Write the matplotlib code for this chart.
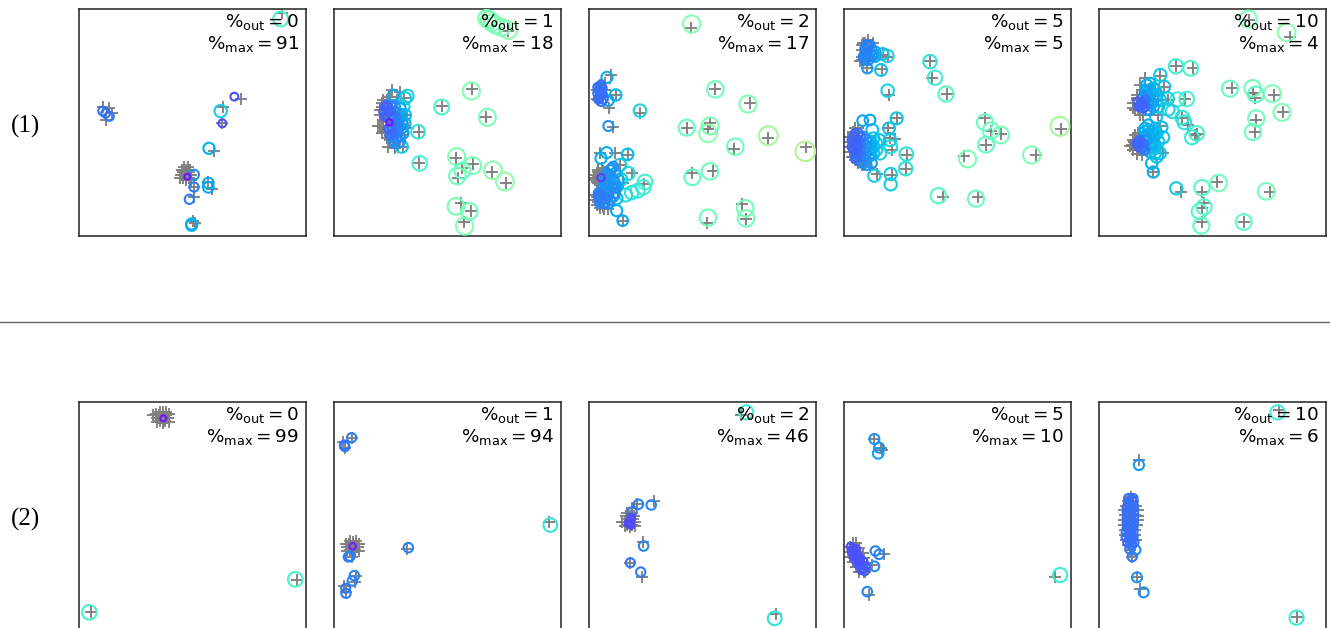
import numpy as np
import matplotlib
matplotlib.use('Agg')
import matplotlib.pyplot as plt
from matplotlib.lines import Line2D

W, H = 1330, 628

pct_out = [0, 1, 2, 5, 10]
pct_max_1 = [91, 18, 17, 5, 4]
pct_max_2 = [99, 94, 46, 10, 6]
row_names = ['(1)', '(2)']

# circles are (x, y, score), pluses are (x, y)
c_1_0 = [(632,57,.38),(493,290,.08),(452,333,.27),(457,370,.08),(417,445,.22),(372,524,.17),(352,530,.0),
         (372,561,.14),(415,549,.2),(415,562,.2),(358,598,.14),(365,672,.22),(365,676,.22),(98,333,.12),(107,340,.12),(118,349,.13)]
p_1_0 = [(637,40),(513,298),(458,322),(457,370),(432,452),(372,561),(425,568),(415,545),(372,592),(368,662),(375,670),
         (100,322),(125,340),(108,360),(118,325),
         (348,525),(338,517),(358,517),(332,525),(364,525),(340,535),(356,535),(348,509),(348,541),(335,510),(360,510),
         (330,535),(362,540),(342,500),(355,500),(342,525),(354,525),(348,517),(348,533)]

c_1_1 = [(470,55,.47),(478,60,.47),(487,68,.47),(497,75,.47),(515,82,.48),(535,90,.5),(424,273,.48),(335,321,.38),(472,352,.47),
         (264,395,.33),(269,490,.37),(380,470,.47),(428,497,.47),(397,512,.43),(382,528,.45),(489,511,.5),(525,545,.5),(378,619,.46),
         (418,634,.45),(404,678,.48),(215,440,.27),(232,288,.28),(225,295,.27),(190,285,.2),(220,320,.27),(225,345,.25),(225,370,.22),
         (220,400,.2),(215,345,.22),(210,380,.17),(205,355,.2),(195,335,.17),(200,400,.15),(210,425,.18),(190,420,.17),(200,370,.15),
         (190,350,.15),(185,405,.13),(185,390,.12),(170,315,.12),(175,335,.1),(165,350,.1),(185,320,.13),(178,367,.0),
         (175,320,.1),(165,320,.1),(160,335,.1),(170,345,.1),(185,345,.12),(180,335,.12),(195,350,.14),(205,365,.16),(195,385,.14),
         (205,385,.16),(185,380,.12),(175,385,.1),(190,400,.13),(200,415,.15),(210,410,.17),(195,430,.16),(180,405,.12),(215,365,.2),
         (215,385,.2),(205,340,.2),(195,320,.17),(210,325,.22)]
p_1_1 = [(535,92),(425,268),(337,318),(467,352),(268,396),(268,490),(378,475),(430,493),(397,505),(385,535),(487,515),(528,550),
         (392,610),(422,632),(403,665),(218,440),(185,270),(210,275),(222,295),(155,310),(150,378),(175,400),(195,445),(235,385),
         (165,345),(170,365),(160,385),(190,425),(215,405),(200,300),(160,330),(225,345),
         (155,320),(150,345),(145,378),(155,378),(160,360),(150,330),(165,395),(170,415),(180,420),(155,400),(165,320),(170,300),
         (160,300),(180,290),(205,440),(175,440)]

c_1_2 = [(320,72,.48),(391,268,.45),(489,312,.48),(305,383,.43),(375,378,.47),(369,400,.5),(550,407,.55),(661,454,.58),(451,440,.45),
         (375,514,.45),(322,532,.42),(481,625,.45),(483,655,.45),(369,653,.45),(165,332,.28),(66,232,.22),(92,285,.24),(70,378,.17),
         (128,463,.24),(65,458,.22),(48,475,.22),(105,495,.27),(130,520,.3),(108,538,.27),(180,546,.37),(175,562,.36),(158,572,.34),
         (140,578,.32),(122,585,.3),(95,595,.25),(95,632,.22),(113,662,.2),(70,302,.2),(45,262,.12),(48,275,.12),(45,290,.12),(50,305,.13),
         (80,505,.17),(75,525,.18),(85,540,.17),(60,555,.17),(75,570,.18),(55,575,.17),(45,600,.15),(70,610,.17),(90,580,.15),(60,595,.15),
         (85,565,.17),(50,565,.17),(70,585,.17),(90,520,.2),(40,590,.13),(48,533,.06),
         (40,580,.14),(50,590,.14),(60,610,.15),(45,610,.15),(60,565,.17),(70,555,.18),(80,555,.18),(70,540,.18),(60,540,.17),(90,560,.2),
         (85,590,.18),(75,600,.17),(55,610,.15),(100,540,.22),(65,520,.17),(75,510,.17),(85,500,.17),(90,550,.2),(55,590,.15),(70,570,.17),
         (45,585,.14),(95,560,.22),(38,262,.12),(52,265,.12),(38,280,.12),(52,282,.12),(40,297,.12),(55,298,.13),(42,270,.12),(48,255,.12)]
p_1_2 = [(317,85),(391,268),(495,310),(305,385),(376,368),(368,388),(550,415),(664,442),(447,447),(385,513),(322,518),(470,612),
         (483,657),(365,668),(165,338),(78,225),(92,285),(83,380),(128,465),(45,460),(90,458),(105,495),(140,520),(113,548),(178,552),
         (72,323),(60,270),(35,298),(70,628),(113,662),(45,535),(32,525),(58,525),(35,545),(50,550),(40,515),(55,512),(38,605),(55,620),(35,590),
         (30,540),(38,510),(38,530),(38,550),(50,505),(50,520),(50,540),(60,515),(60,530),(60,545),(28,535),
         (30,600),(35,615),(45,625),(58,628),(30,585),(45,610),(45,255),(35,270),(40,300),(55,290),(60,250)]

c_1_3 = [(660,379,.55),(575,465,.48),(383,477,.47),(408,596,.43),(295,587,.4),(482,405,.46),(453,392,.45),(435,367,.43),(438,434,.42),
         (318,282,.4),(285,233,.36),(270,185,.32),(143,272,.28),(142,168,.28),(128,162,.25),(123,210,.25),(82,205,.18),(75,180,.15),
         (170,355,.26),(147,385,.25),(199,462,.32),(197,506,.32),(103,527,.27),(152,522,.27),(152,553,.27),(150,420,.27),(152,440,.3),
         (90,360,.2),(68,362,.2),(97,390,.25),(118,420,.25),(120,460,.28),(100,440,.25),(100,460,.25),(95,490,.18),(100,415,.25),
         (85,430,.22),(85,450,.22),(85,470,.22),(70,410,.17),(70,430,.17),(70,450,.17),(70,470,.17),(70,490,.17),(55,400,.12),(55,420,.12),
         (55,440,.12),(55,460,.13),(40,410,.1),(40,430,.1),(40,450,.1),(50,470,.12),(85,140,.15),(95,150,.18),(75,160,.16),(85,170,.17),
         (100,165,.2),(75,145,.14),
         (35,420,.1),(35,440,.1),(45,400,.1),(48,420,.1),(48,440,.1),(48,460,.11),(62,410,.13),(62,430,.14),(62,450,.14),(62,470,.14),
         (62,485,.15),(78,420,.18),(78,440,.18),(78,460,.18),(78,480,.18),(92,425,.22),(92,445,.22),(92,465,.22),(108,430,.27),(108,450,.27),
         (80,495,.17),(45,475,.11),(80,135,.14),(90,135,.15),(90,158,.17),(80,150,.15),(70,170,.15),(85,180,.16),(95,165,.18),(105,155,.2),
         (105,170,.2),(78,170,.15)]
p_1_3 = [(662,388),(587,466),(372,468),(413,590),(310,592),(483,402),(452,392),(435,355),(438,434),(320,282),(275,233),(270,183),
         (147,285),(145,170),(130,165),(125,208),(82,205),(65,180),(170,355),(145,385),(200,465),(197,507),(110,522),(155,525),(155,450),
         (150,415),(85,120),(25,410),(70,495),(40,395),(35,470),(55,485),(75,130),(65,135),(165,418),(90,500),
         (30,410),(30,425),(30,440),(30,455),(38,395),(38,470),(45,385),(45,480),(55,385),(55,490),(65,495),(42,410),(42,430),(42,450),(50,400),
         (70,130),(85,125),(100,130),(65,150),(65,170),(60,182)]

c_1_4 = [(460,57,.47),(575,97,.5),(243,199,.36),(287,205,.38),(196,225,.27),(405,266,.43),(473,265,.45),(482,283,.42),(532,281,.47),
         (561,337,.47),(484,355,.44),(474,396,.44),(275,297,.37),(247,298,.35),(218,296,.28),(208,260,.25),(220,328,.28),(232,335,.3),
         (262,353,.33),(268,367,.33),(305,400,.37),(291,412,.34),(183,352,.25),(200,382,.24),(205,412,.25),(180,405,.25),(195,460,.25),
         (185,470,.26),(170,490,.23),(175,516,.22),(244,565,.27),(321,563,.4),(371,549,.45),(514,574,.46),(327,621,.4),(313,634,.4),
         (319,677,.43),(446,666,.42),(165,270,.22),(155,255,.22),(175,285,.22),(170,310,.2),(150,275,.2),(160,290,.2),(185,300,.25),
         (180,270,.25),(165,330,.2),(160,390,.22),(150,395,.22),(175,425,.25),(165,410,.22),(180,385,.24),(165,440,.23),(150,410,.2),
         (180,445,.25),(150,300,.12),(150,320,.13),(140,305,.1),(135,315,.1),(145,440,.12),(138,432,.12),(130,425,.11),
         (165,250,.22),(155,270,.2),(165,285,.2),(175,265,.24),(185,285,.24),(160,305,.18),(175,300,.2),(145,290,.15),(128,305,.1),(130,320,.1),
         (145,325,.1),(140,315,.1),(155,330,.18),(175,320,.22),(190,320,.25),(195,300,.26),(150,385,.22),(160,375,.22),(170,395,.23),
         (185,400,.24),(160,405,.22),(175,410,.22),(190,425,.25),(155,420,.18),(170,430,.22),(165,455,.24),(180,460,.25),(135,420,.12),
         (125,430,.1),(130,440,.11),(140,445,.12),(145,430,.12),(148,450,.13),(180,435,.24)]
p_1_4 = [(462,60),(585,110),(243,199),(295,204),(195,228),(412,263),(475,278),(480,295),(537,285),(565,335),(482,360),(480,396),
         (270,297),(220,300),(207,262),(190,345),(260,355),(278,375),(300,405),(305,403),(150,235),(115,310),(135,345),(105,437),
         (125,462),(175,517),(257,575),(320,575),(366,547),(525,577),(327,610),(320,625),(320,667),(446,666),(195,378),(205,460),
         (125,295),(130,330),(145,325),(118,425),(130,445),(135,415),(150,450),
         (125,300),(115,325),(145,345),(125,285),(140,270),(135,255),(120,330),(115,420),(115,450),(130,400),(125,445),(140,465),(110,435),(120,405)]

c_2_0 = [(676,553,.37),(58,652,.37),(280,70,.0)]
p_2_0 = [(680,556),(62,650),(250,60),
         (278,68),(268,60),(288,60),(262,68),(294,68),(270,78),(286,78),(278,52),(278,84),(258,58),(298,58),(260,80),(296,80),
         (270,50),(288,50),(272,68),(284,68),(278,60),(278,76)]

c_2_1 = [(845,128,.14),(823,150,.13),(825,155,.13),(840,484,.14),(835,486,.14),(1015,458,.15),(853,542,.15),(847,558,.15),
         (827,580,.13),(828,595,.14),(1441,390,.33),(848,454,.02)]
p_2_1 = [(818,140),(845,128),(825,160),(845,485),(1012,462),(858,542),(855,562),(822,573),(827,590),(1437,380),
         (848,456),(838,448),(858,448),(832,456),(864,456),(840,466),(856,466),(848,440),(848,472),(828,446),(868,446),
         (830,468),(866,468),(840,438),(858,438),(842,456),(854,456),(848,448),(848,464)]

c_2_2 = [(340,52,.35),(100,350,.13),(113,328,.15),(140,330,.15),(124,453,.15),(96,503,.13),(118,531,.14),(400,670,.33),
         (97,372,.08),(95,380,.07),(95,385,.07),(98,368,.07),(92,385,.07),(97,390,.07)]
p_2_2 = [(330,60),(145,318),(110,328),(122,440),(96,503),(120,545),(402,658),(78,380),(100,340),
         (95,380),(88,372),(102,372),(84,380),(106,380),(90,390),(100,390),(95,364),(95,396),(86,362),(104,362),(85,392),
         (105,392),(90,355),(100,355),(92,380),(98,380),(95,372),(95,388)]

c_2_3 = [(610,132,.17),(620,158,.17),(618,175,.2),(612,468,.15),(620,478,.15),(610,514,.16),(595,590,.15),(1001,540,.35),
         (565,460,.08),(568,470,.08),(570,475,.08),(575,490,.08),(578,497,.08),(580,505,.09),(585,510,.09),(585,520,.09),
         (560,455,.08),(572,462,.08),(562,468,.08),(574,478,.08),(566,482,.08),(580,490,.08),(570,495,.08),(587,500,.09),
         (577,510,.09),(592,515,.09),(583,525,.09),(590,528,.1)]
p_2_3 = [(610,132),(623,158),(625,165),(630,478),(605,510),(598,600),(990,545),(590,530),
         (565,445),(572,445),(558,455),(568,458),(578,458),(555,470),(565,472),(575,472),(585,475),(558,485),(568,488),(578,488),
         (588,490),(565,500),(575,502),(585,502),(595,505),(572,515),(582,518),(592,518),(578,530),(588,530)]

c_2_4 = [(1459,52,.36),(1499,668,.35),(1167,210,.18),(1163,547,.17),(1177,592,.17),(1160,465,.16),(1148,462,.14),(1153,485,.14),
         (1152,315,.12),(1150,330,.12),(1150,345,.12),(1148,360,.12),(1150,375,.12),(1150,390,.12),(1148,405,.12),(1148,420,.12),
         (1150,435,.12),(1152,450,.12),
         (1145,310,.12),(1155,310,.12),(1145,322,.12),(1155,322,.12),(1142,337,.12),(1156,337,.12),(1142,352,.12),(1156,352,.12),
         (1142,367,.12),(1156,367,.12),(1142,382,.12),(1156,382,.12),(1142,397,.12),(1155,397,.12),(1140,412,.12),(1155,412,.12),
         (1140,427,.12),(1155,427,.12),(1143,442,.12),(1157,442,.12)]
p_2_4 = [(1463,45),(1500,665),(1167,195),(1163,547),(1170,582),(1153,485),
         (1150,305),(1145,318),(1155,318),(1140,332),(1150,332),(1160,332),(1135,346),(1145,346),(1155,346),(1165,346),(1138,360),
         (1148,360),(1158,360),(1165,362),(1135,375),(1145,375),(1155,375),(1165,375),(1135,390),(1145,390),(1155,390),(1162,390),
         (1138,405),(1148,405),(1158,405),(1138,420),(1148,420),(1158,420),(1140,435),(1150,435),(1160,435),(1145,450),(1155,450),(1148,465)]

circles = [[c_1_0, c_1_1, c_1_2, c_1_3, c_1_4], [c_2_0, c_2_1, c_2_2, c_2_3, c_2_4]]
pluses = [[p_1_0, p_1_1, p_1_2, p_1_3, p_1_4], [p_2_0, p_2_1, p_2_2, p_2_3, p_2_4]]
pct_max = [pct_max_1, pct_max_2]

x_windows = [[(27, 708), (12, 693), (12, 693), (12, 693), (12, 693)],
             [(27, 708), (792, 1473), (9, 487), (546, 1024), (1083, 1561)]]
y_windows = [(708, 27), (702, 21)]
lefts = [79, 334, 589, 844, 1099]
tops = [9, 402]

fig = plt.figure(figsize=(W / 100, H / 100), dpi=100)

for r in range(2):
    for i in range(5):
        ax = fig.add_axes([lefts[i] / W, 1 - (tops[r] + 227) / H, 227 / W, 227 / H])
        cs = np.array(circles[r][i])
        cs = cs[np.argsort(-cs[:, 2])]  # low scores on top
        ps = np.array(pluses[r][i])
        ax.scatter(ps[:, 0], ps[:, 1], marker='+', s=85, c='gray', linewidths=1.35, zorder=2)
        radius = 9 + 35 * cs[:, 2]
        ax.scatter(cs[:, 0], cs[:, 1], s=(0.48 * radius) ** 2, facecolors='none',
                   edgecolors=plt.cm.rainbow(cs[:, 2] + 0.025), linewidths=1.5, zorder=3)
        ax.set_xlim(x_windows[r][i])
        ax.set_ylim(y_windows[r])
        ax.set_xticks([])
        ax.set_yticks([])
        for sp in ax.spines.values():
            sp.set_linewidth(1.1)
            sp.set_color('#222222')
        ax.text(0.97, 0.942, r'$\%_{\mathrm{out}} = ' + str(pct_out[i]) + '$', transform=ax.transAxes,
                ha='right', va='center', fontsize=13.2, zorder=5)
        ax.text(0.97, 0.845, r'$\%_{\mathrm{max}} = ' + str(pct_max[r][i]) + '$', transform=ax.transAxes,
                ha='right', va='center', fontsize=13.2, zorder=5)
    fig.text(25 / W, 1 - (tops[r] + 117) / H, row_names[r], family='Liberation Serif',
             fontsize=18, ha='center', va='center')

fig.add_artist(Line2D([0, 1], [1 - 322 / H, 1 - 322 / H], color='#666666', lw=1.0))

fig.savefig('out.png', dpi=100)
